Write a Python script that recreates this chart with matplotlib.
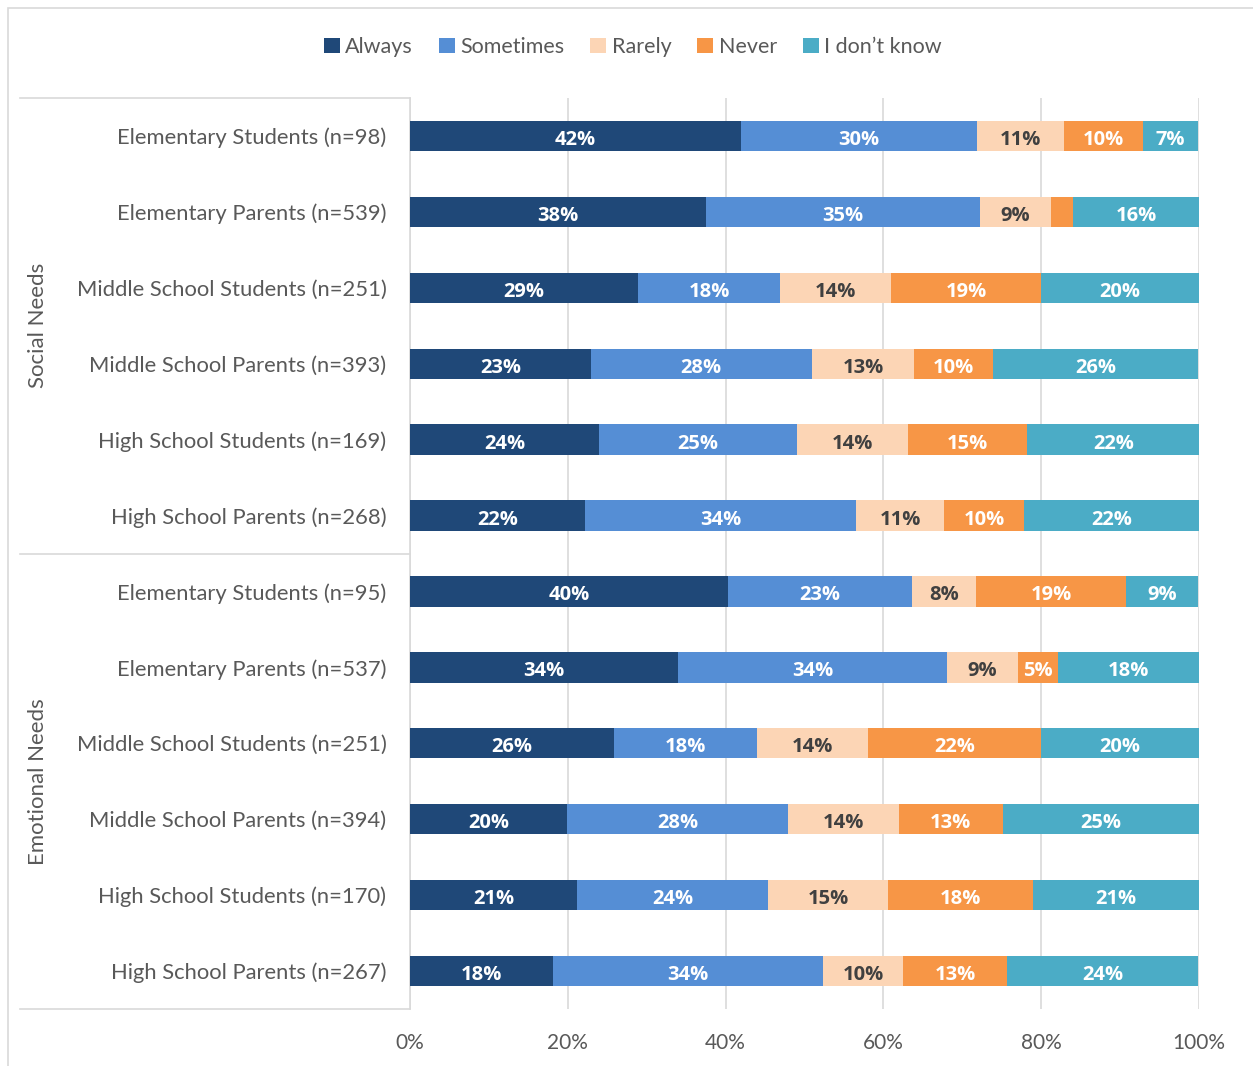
import matplotlib
matplotlib.use("Agg")
import matplotlib.pyplot as plt
import matplotlib.transforms as mtransforms
from matplotlib.patches import Patch, Rectangle
import numpy as np

plt.rcParams['font.family'] = ['Lato', 'DejaVu Sans']

groups = ["Social Needs", "Emotional Needs"]
categories = [
    "Elementary Students (n=98)", "Elementary Parents (n=539)",
    "Middle School Students (n=251)", "Middle School Parents (n=393)",
    "High School Students (n=169)", "High School Parents (n=268)",
    "Elementary Students (n=95)", "Elementary Parents (n=537)",
    "Middle School Students (n=251)", "Middle School Parents (n=394)",
    "High School Students (n=170)", "High School Parents (n=267)",
]
series = ["Always", "Sometimes", "Rarely", "Never", "I don\u2019t know"]
always    = [41.9, 37.5, 28.9, 22.9, 24.0, 22.2, 40.3, 34.0, 25.9, 19.9, 21.2, 18.1]
sometimes = [30.0, 34.7, 18.0, 28.0, 25.0, 34.3, 23.3, 34.0, 18.1, 28.0, 24.2, 34.3]
rarely    = [11.0,  9.0, 14.1, 13.0, 14.1, 11.2,  8.1,  9.0, 14.1, 14.1, 15.2, 10.1]
never     = [10.0,  2.8, 19.0, 10.0, 15.1, 10.1, 19.1,  5.1, 21.9, 13.1, 18.3, 13.2]
dontknow  = [ 7.0, 16.0, 20.0, 26.0, 21.9, 22.2,  9.1, 18.0, 20.0, 25.0, 21.2, 24.2]
xticks = [0, 20, 40, 60, 80, 100]

colors = ["#1F4878", "#558ED5", "#FCD5B5", "#F79646", "#4BACC6"]
text_colors = ["white", "white", "#404040", "white", "white"]
gray = "#595959"
linec = "#D9D9D9"

W, H = 1253, 1066
fig = plt.figure(figsize=(W / 100, H / 100), dpi=100)
fig.patches.append(Rectangle((8 / W, -0.1), 1.1, 1.1 - 8 / H, transform=fig.transFigure,
                             fill=False, edgecolor=linec, linewidth=1.2))

L, R, T, B = 410, 1199, 98, 1009
ax = fig.add_axes([L / W, 1 - B / H, (R - L) / W, (B - T) / H])

data = np.array([always, sometimes, rarely, never, dontknow])
n = len(categories)
y = np.arange(n)
left = np.zeros(n)
for i, s in enumerate(series):
    vals = data[i]
    ax.barh(y, vals, left=left, height=0.4, color=colors[i], label=s, zorder=3)
    for j in range(n):
        v = vals[j]
        if v >= 4:
            ax.text(left[j] + v / 2, y[j] + 0.02, f"{round(v):.0f}%", ha="center",
                    va="center_baseline", color=text_colors[i], fontsize=14.5,
                    fontweight="bold", family=["Open Sans", "DejaVu Sans"], zorder=4)
    left += vals

ax.set_xlim(0, 100)
ax.set_ylim(n - 0.5, -0.5)
ax.set_xticks(xticks)
ax.set_xticklabels([f"{t}%" for t in xticks], fontsize=15, color=gray)
ax.set_yticks(y)
ax.set_yticklabels(categories, fontsize=15.8, color=gray)
ax.tick_params(axis="y", length=0, pad=17)
ax.tick_params(axis="x", length=0, pad=17)
ax.grid(axis="x", color=linec, linewidth=1.2, zorder=0)
for sp in ["top", "right", "bottom"]:
    ax.spines[sp].set_visible(False)
ax.spines["left"].set_color(linec)
ax.spines["left"].set_linewidth(1.2)

trans = mtransforms.blended_transform_factory(ax.transAxes, ax.transData)
x0 = (20 - L) / (R - L)
for yy in [-0.5, 5.5, n - 0.5]:
    ax.plot([x0, 0], [yy, yy], transform=trans, color=linec, linewidth=1.2, clip_on=False)
gx = (38 - L) / (R - L)
ax.text(gx, 2.5, groups[0], transform=trans, rotation=90, ha="center", va="center",
        fontsize=16, color=gray)
ax.text(gx, 8.5, groups[1], transform=trans, rotation=90, ha="center", va="center",
        fontsize=16, color=gray)

handles = [Patch(facecolor=c, label=s) for c, s in zip(colors, series)]
leg = fig.legend(handles=handles, loc="center", bbox_to_anchor=(0.505, 1 - 47 / H), ncol=5,
                 frameon=False, fontsize=15.5, handlelength=0.75, handleheight=0.75,
                 handletextpad=0.25, columnspacing=1.2)
for t in leg.get_texts():
    t.set_color(gray)

fig.savefig("out.png", dpi=100)
